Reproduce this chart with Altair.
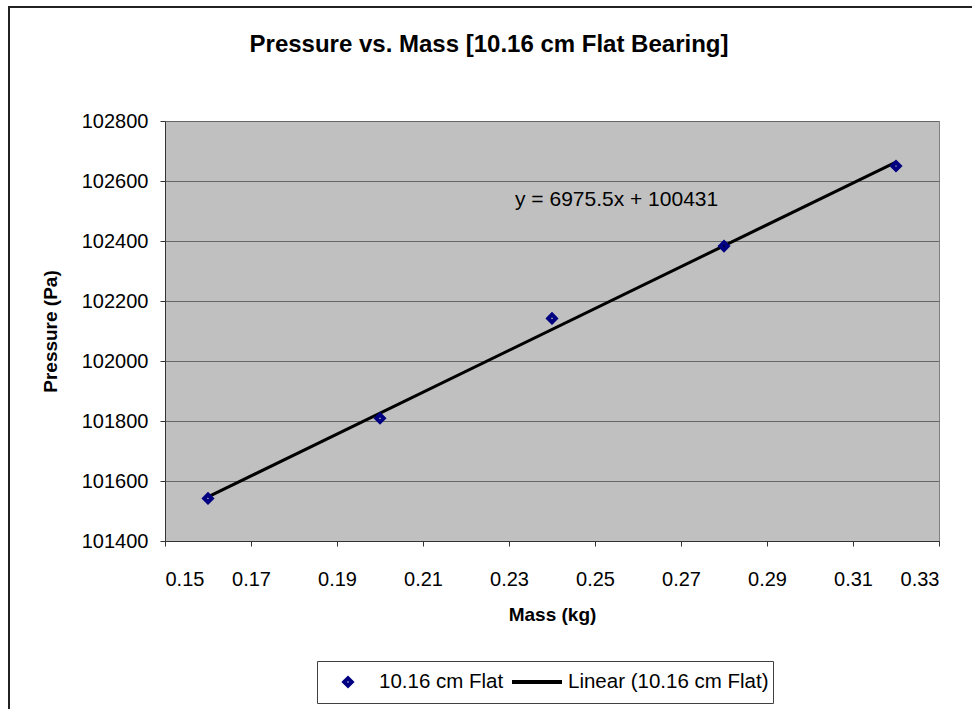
import altair as alt
import pandas as pd

# Measured pressure for each added mass (10.16 cm flat bearing)
masses = [0.16, 0.20, 0.24, 0.28, 0.32]
pressures = [101542, 101809, 102142, 102383, 102650]

# Least-squares trend line reported on the chart
slope = 6975.5
intercept = 100431

series_name = "10.16 cm Flat"
trend_name = "Linear (10.16 cm Flat)"

x_ticks = [0.15, 0.17, 0.19, 0.21, 0.23, 0.25, 0.27, 0.29, 0.31, 0.33]
y_ticks = [101400, 101600, 101800, 102000, 102200, 102400, 102600, 102800]

FONT = "Liberation Sans"

points = pd.DataFrame({"mass": masses, "pressure": pressures, "series": series_name})
trend_x = [masses[0], masses[-1]]
trend = pd.DataFrame({
    "mass": trend_x,
    "pressure": [slope * m + intercept for m in trend_x],
    "series": trend_name,
})
equation = pd.DataFrame({
    "mass": [0.2314],
    "pressure": [102537],
    "label": [f"y = {slope}x + {intercept}"],
})

x_enc = alt.X(
    "mass:Q",
    scale=alt.Scale(domain=[0.15, 0.33], nice=False, zero=False),
    axis=alt.Axis(
        values=x_ticks, format=".2f", title="Mass (kg)", grid=False,
        labelPadding=23, titlePadding=16,
    ),
)
y_enc = alt.Y(
    "pressure:Q",
    scale=alt.Scale(domain=[101400, 102800], nice=False, zero=False),
    axis=alt.Axis(
        values=y_ticks, format="d", title="Pressure (Pa)", grid=True,
        labelPadding=12, titlePadding=21,
    ),
)

domain = [series_name, trend_name]
legend = alt.Legend(
    title=None,
    orient="none",
    legendX=152,
    legendY=540,
    direction="horizontal",
    columns=2,
    labelFont=FONT,
    labelFontSize=20.5,
    labelColor="black",
    labelOffset=4,
    labelLimit=400,
    strokeColor="#404040",
    fillColor="white",
    padding=4,
    columnPadding=6,
    clipHeight=34,
    symbolStrokeWidth=4,
    symbolOpacity=1,
)
color_enc = alt.Color(
    "series:N",
    scale=alt.Scale(domain=domain, range=["#000080", "#000000"]),
    legend=legend,
)
shape_enc = alt.Shape(
    "series:N",
    scale=alt.Scale(domain=domain, range=["diamond", "stroke"]),
    legend=legend,
)
size_enc = alt.Size(
    "series:N",
    scale=alt.Scale(type="point", domain=domain, range=[56, 2500], padding=0),
    legend=legend,
)

# Thin border round the whole figure
frame = alt.Chart(pd.DataFrame({"k": [0]})).mark_rect(
    filled=False, stroke="#222222", strokeWidth=2
).encode(
    x=alt.value(-156), x2=alt.value(840),
    y=alt.value(-114), y2=alt.value(620),
)

line = alt.Chart(trend).mark_line(strokeWidth=3).encode(
    x=x_enc, y=y_enc, color=color_enc
)

dots = alt.Chart(points).mark_point(
    filled=False, strokeWidth=4, opacity=1
).encode(
    x="mass:Q", y="pressure:Q", color=color_enc, shape=shape_enc, size=size_enc
)

eq = alt.Chart(equation).mark_text(
    align="left", baseline="middle", font=FONT, fontSize=21, color="black"
).encode(x="mass:Q", y="pressure:Q", text="label:N")

chart = alt.layer(frame, line, dots, eq).properties(
    width=774,
    height=420,
    autosize=alt.AutoSizeParams(type="none"),
    padding={"left": 165, "top": 121, "right": 33, "bottom": 168},
    background="white",
    title=alt.TitleParams(
        "Pressure vs. Mass [10.16 cm Flat Bearing]",
        font=FONT, fontSize=24, fontWeight="bold", color="black",
        anchor="middle", frame="group", dx=-63, offset=-51,
    ),
).configure_view(
    fill="#C0C0C0", stroke="#808080", strokeWidth=1
).configure_axis(
    labelFont=FONT, labelFontSize=20, labelColor="black",
    titleFont=FONT, titleFontSize=19, titleFontWeight="bold", titleColor="black",
    domainColor="#333333", tickColor="#333333", tickSize=5,
    gridColor="#666666", gridWidth=1,
)

chart.save("out.html", embed_options={"renderer": "svg", "actions": False})
